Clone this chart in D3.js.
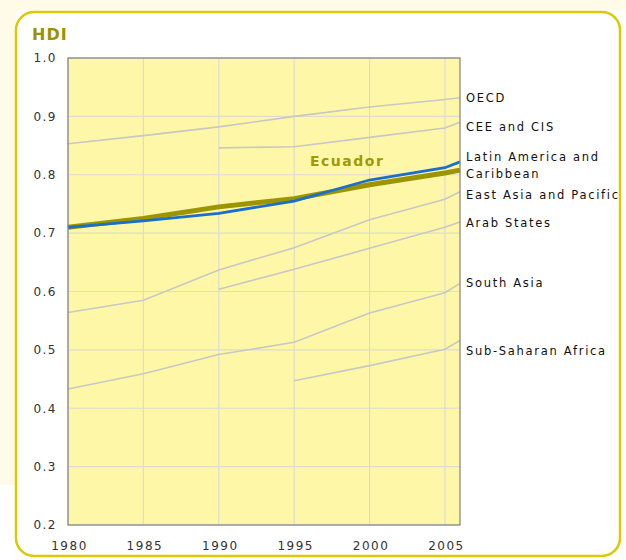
<!DOCTYPE html>
<html>
<head>
<meta charset="utf-8">
<script src="https://cdn.jsdelivr.net/npm/d3@7"></script>
<style>
  body { margin: 0; background: #fff; }
  svg text { font-family: "DejaVu Sans", Verdana, sans-serif; }
</style>
</head>
<body>
<div id="chart"></div>
<script>
// HDI trends, Ecuador against regional aggregates
var years = [1980, 1985, 1990, 1995, 2000, 2005, 2006];
var yTicks = [0.2, 0.3, 0.4, 0.5, 0.6, 0.7, 0.8, 0.9, 1.0];
var xTicks = [1980, 1985, 1990, 1995, 2000, 2005];

var regionNames = ["OECD", "CEE and CIS", "Latin America and Caribbean",
                   "East Asia and Pacific", "Arab States", "South Asia", "Sub-Saharan Africa"];
// null = no data for that year
var oecd      = [0.853, 0.867, 0.882, 0.900, 0.916, 0.929, 0.932];
var ceeCis    = [null, null, 0.846, 0.848, 0.864, 0.880, 0.890];
var latAm     = [0.710, 0.721, 0.734, 0.755, 0.791, 0.812, 0.822];
var eastAsia  = [0.564, 0.585, 0.637, 0.675, 0.723, 0.758, 0.771];
var arab      = [null, null, 0.604, 0.638, 0.674, 0.710, 0.719];
var southAsia = [0.433, 0.459, 0.492, 0.513, 0.563, 0.598, 0.614];
var ssAfrica  = [null, null, null, 0.447, 0.473, 0.501, 0.516];
var ecuador   = [0.710, 0.725, 0.745, 0.759, 0.783, 0.803, 0.808];

var regionValues = [oecd, ceeCis, latAm, eastAsia, arab, southAsia, ssAfrica];

var w = 626, h = 560;
var m = {left: 68, top: 58, right: 460, bottom: 525};

var svg = d3.select("#chart").append("svg")
    .attr("width", w).attr("height", h);

// pale page edge + rounded frame
svg.append("rect").attr("x", 0).attr("y", 0).attr("width", 16).attr("height", 485).attr("fill", "#fffbe8");
svg.append("rect").attr("x", 0).attr("y", 0).attr("width", w).attr("height", 10).attr("fill", "#fffbe8");
svg.append("rect")
   .attr("x", 16).attr("y", 12).attr("width", 604).attr("height", 544)
   .attr("rx", 18).attr("ry", 18)
   .attr("fill", "#fff").attr("stroke", "#d8cb00").attr("stroke-width", 2.5);

var x = d3.scaleLinear().domain([1980, 2006]).range([m.left, m.right]);
var y = d3.scaleLinear().domain([0.2, 1.0]).range([m.bottom, m.top]);

// plot background
svg.append("rect")
   .attr("x", m.left).attr("y", m.top)
   .attr("width", m.right - m.left).attr("height", m.bottom - m.top)
   .attr("fill", "#fff7a8");

// grid
svg.append("g").selectAll("line").data(yTicks).enter().append("line")
   .attr("x1", m.left).attr("x2", m.right)
   .attr("y1", d => y(d)).attr("y2", d => y(d))
   .attr("stroke", "#dcdcd0").attr("stroke-width", 1.2);
svg.append("g").selectAll("line").data(xTicks).enter().append("line")
   .attr("x1", d => x(d)).attr("x2", d => x(d))
   .attr("y1", m.top).attr("y2", m.bottom)
   .attr("stroke", "#dcdcd0").attr("stroke-width", 1.2);

// axes (labels only, frame drawn separately)
var yAxis = d3.axisLeft(y).tickValues(yTicks).tickFormat(d3.format(".1f")).tickSize(0).tickPadding(11);
var xAxis = d3.axisBottom(x).tickValues(xTicks).tickFormat(d3.format("d")).tickSize(0).tickPadding(16);

svg.append("g").attr("transform", "translate(" + m.left + ",0)").call(yAxis)
   .call(g => g.select(".domain").remove());
svg.append("g").attr("transform", "translate(1," + m.bottom + ")").call(xAxis)
   .call(g => g.select(".domain").remove());
svg.selectAll(".tick text").attr("font-size", 12).attr("fill", "#333")
   .attr("letter-spacing", "1.5px")
   .attr("font-family", "'DejaVu Sans', Verdana, sans-serif");

var line = d3.line()
    .defined(d => d[1] != null)
    .x(d => x(d[0]))
    .y(d => y(d[1]));

function pairs(vals) { return years.map((yr, i) => [yr, vals[i]]); }

// gray regional lines (Latin America is highlighted in blue)
regionValues.forEach(function(vals, i) {
    if (i === 2) return;
    svg.append("path").datum(pairs(vals))
       .attr("d", line).attr("fill", "none")
       .attr("stroke", "#c8c8c4").attr("stroke-width", 1.6);
});

svg.append("path").datum(pairs(ecuador))
   .attr("d", line).attr("fill", "none")
   .attr("stroke", "#9c9400").attr("stroke-width", 5);

svg.append("path").datum(pairs(latAm))
   .attr("d", line).attr("fill", "none")
   .attr("stroke", "#1a6fcc").attr("stroke-width", 2.8);

// plot border
svg.append("rect")
   .attr("x", m.left).attr("y", m.top)
   .attr("width", m.right - m.left).attr("height", m.bottom - m.top)
   .attr("fill", "none").attr("stroke", "#808080").attr("stroke-width", 1.2);

// region labels at line ends, nudged apart
var nudge = [1, 5, 3, 4, 1, 0, 11];
regionNames.forEach(function(name, i) {
    var vals = regionValues[i];
    var yy = y(vals[vals.length - 1]) + nudge[i];
    var t = svg.append("text")
       .attr("x", m.right + 6).attr("y", yy)
       .attr("font-size", 11.5).attr("fill", "#111")
       .attr("letter-spacing", "1.7px")
       .attr("dominant-baseline", "middle");
    if (name === "Latin America and Caribbean") {
        t.append("tspan").attr("x", m.right + 6).attr("dy", "-0.65em").text("Latin America and");
        t.append("tspan").attr("x", m.right + 6).attr("dy", "1.45em").text("Caribbean");
    } else {
        t.text(name);
    }
});

svg.append("text").attr("x", 32).attr("y", 40)
   .attr("font-size", 16).attr("font-weight", "bold").attr("fill", "#9a9200")
   .attr("letter-spacing", "1px")
   .text("HDI");

svg.append("text").attr("x", 310).attr("y", 166)
   .attr("font-size", 14).attr("font-weight", "bold").attr("fill", "#a09a00")
   .attr("letter-spacing", "1.5px")
   .text("Ecuador");
</script>
</body>
</html>
